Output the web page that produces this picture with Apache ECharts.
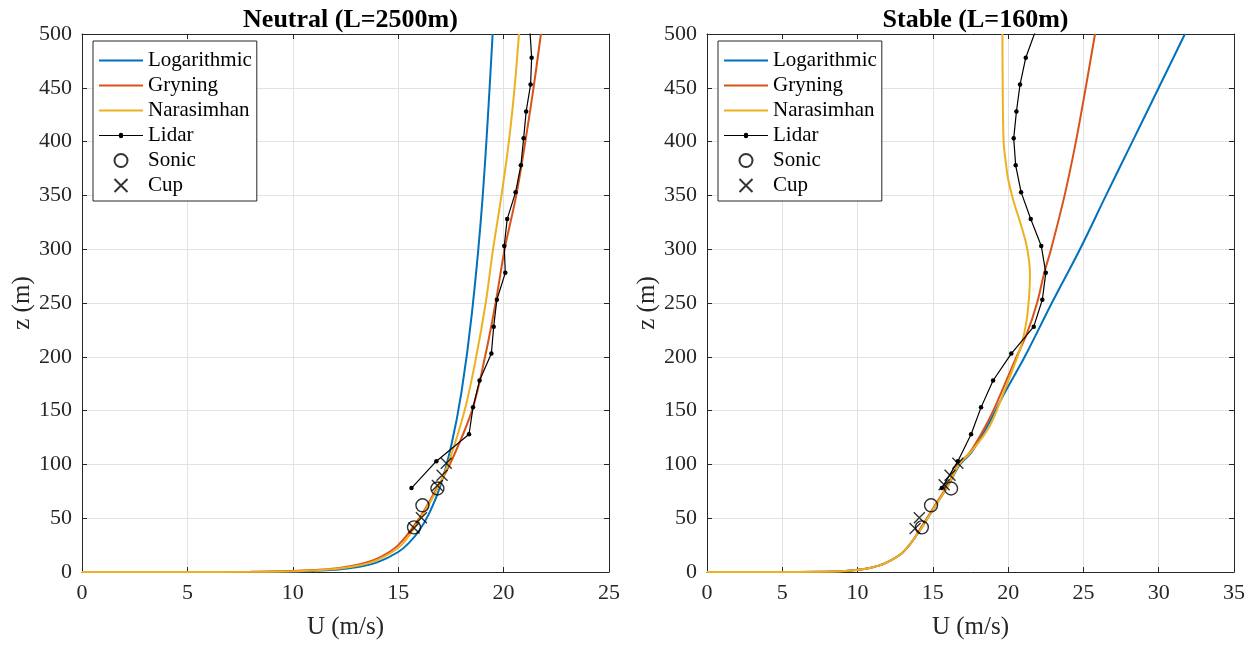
<!DOCTYPE html>
<html><head><meta charset="utf-8">
<script src="https://cdn.jsdelivr.net/npm/echarts@6/dist/echarts.min.js"></script>
<style>html,body{margin:0;padding:0;background:#fff;overflow:hidden}#c{width:1248px;height:645px}</style>
</head><body><div id="c"></div><script>
// ---------- Neutral (L=2500m) ----------
const neutralLogU = [0, 5, 8, 10, 11, 12, 13, 14, 15, 15.5, 16, 16.5, 17, 17.5, 18, 18.5, 19, 19.48];
const neutralLogZ = [0, 0.012, 0.11, 0.48, 1.0, 2.07, 4.3, 8.95, 18.6, 26.8, 38.6, 55.7, 80, 116, 167, 241, 347, 500];
const neutralGryU = [0, 5, 8, 10, 11, 12, 13, 14, 15, 16, 16.75, 17.45, 18.5, 19.12, 19.62, 20.05, 20.6, 21.03, 21.42, 21.77];
const neutralGryZ = [0, 0.02, 0.2, 1.0, 1.9, 3.3, 6.5, 12.5, 25, 50, 75, 100, 150, 200, 250, 300, 350, 400, 450, 500];
const neutralNarU = [0, 5, 8, 10, 11, 12, 13, 14, 15.15, 16.05, 16.8, 17.36, 18.15, 18.7, 19.15, 19.5, 19.9, 20.25, 20.52, 20.73];
const neutralNarZ = [0, 0.015, 0.15, 0.7, 1.5, 2.7, 5.5, 11, 25, 50, 75, 100, 150, 200, 250, 300, 350, 400, 450, 500];
const neutralLidarU = [15.63, 16.81, 18.36, 18.55, 18.86, 19.42, 19.53, 19.68, 20.08, 20.03, 20.17, 20.57, 20.82, 20.95, 21.07, 21.28, 21.33, 21.25];
const neutralLidarZ = [78, 103, 128, 153, 178, 203, 228, 253, 278, 303, 328, 353, 378, 403, 428, 453, 478, 503];
const neutralSonicU = [15.75, 16.15, 16.86];
const neutralSonicZ = [41.5, 62, 77.6];
const neutralCupU = [15.75, 16.1, 16.86, 17.08, 17.28];
const neutralCupZ = [41, 50.5, 80.5, 90, 101];

// ---------- Stable (L=160m) ----------
const stableLogU = [0, 5, 8.5, 9.9, 10.9, 11.8, 12.9, 13.6, 14.25, 15.1, 16.0, 16.8, 17.55, 18.6, 19.75, 21.1, 22.9, 24.77, 26.5, 28.25, 30.0, 31.74];
const stableLogZ = [0, 0.02, 0.5, 1.8, 4, 8, 17, 28, 41, 60, 80, 100, 111, 135, 166, 200, 250, 300, 350, 400, 450, 500];
const stableGryU = [0, 5, 8.5, 9.9, 10.9, 11.8, 12.9, 13.6, 14.2, 15.05, 15.95, 16.7, 17.45, 18.47, 19.24, 20.46, 21.23, 21.9, 22.4, 22.85, 23.75, 24.5, 25.15, 25.77];
const stableGryZ = [0, 0.02, 0.5, 1.8, 4, 8, 17, 28, 41, 60, 80, 100, 111, 135, 157, 197, 221, 249, 278, 300, 350, 400, 450, 500];
const stableNarU = [0, 5, 8.5, 9.9, 10.9, 11.8, 12.9, 13.6, 14.25, 15.1, 16.0, 16.75, 17.5, 18.75, 19.68, 20.35, 20.9, 21.23, 21.4, 21.45, 21.38, 21.2, 20.8, 20.35, 20.0, 19.85, 19.7, 19.64, 19.62];
const stableNarZ = [0, 0.02, 0.5, 1.8, 4, 8, 17, 28, 41, 60, 80, 100, 111, 135, 166, 190, 212, 234, 258, 277, 290, 305, 325, 345, 365, 380, 400, 450, 500];
const stableLidarU = [15.6, 16.66, 17.54, 18.2, 19.0, 20.21, 21.7, 22.27, 22.5, 22.2, 21.5, 20.86, 20.5, 20.37, 20.55, 20.79, 21.17, 21.82];
const stableLidarZ = [78, 103, 128, 153, 178, 203, 228, 253, 278, 303, 328, 353, 378, 403, 428, 453, 478, 503];
const stableSonicU = [14.27, 14.88, 16.21];
const stableSonicZ = [41.5, 62, 77.6];
const stableCupU = [13.82, 14.1, 15.75, 16.14, 16.66];
const stableCupZ = [40.5, 50.5, 81, 90, 101];

const titles = ['Neutral (L=2500m)', 'Stable (L=160m)'];
const xMaxes = [25, 35];
const seriesNames = ['Logarithmic', 'Gryning', 'Narasimhan', 'Lidar', 'Sonic', 'Cup'];
const zTickStep = 50, uTickStep = 5, zMax = 500;

const FONT = '"Liberation Serif", "Times New Roman", serif';
const AX = '#262626';
const C_BLUE = '#0072BD', C_ORANGE = '#D95319', C_YELLOW = '#EDB120';
const crossPath = 'path://M0,0L10,10M10,0L0,10';
const lineIcon = 'path://M0,0L44,0L44,2L0,2Z';
const lidarIcon = 'path://M0,1.4L19.8,1.4A2.2,2.2,0,0,1,24.2,1.4L44,1.4L44,2.6L24.2,2.6A2.2,2.2,0,0,1,19.8,2.6L0,2.6Z';

function pairs(u, z) { return u.map((v, i) => [v, z[i]]); }

const panels = [
  {log: pairs(neutralLogU, neutralLogZ), gry: pairs(neutralGryU, neutralGryZ), nar: pairs(neutralNarU, neutralNarZ),
   lidar: pairs(neutralLidarU, neutralLidarZ), sonic: pairs(neutralSonicU, neutralSonicZ), cup: pairs(neutralCupU, neutralCupZ)},
  {log: pairs(stableLogU, stableLogZ), gry: pairs(stableGryU, stableGryZ), nar: pairs(stableNarU, stableNarZ),
   lidar: pairs(stableLidarU, stableLidarZ), sonic: pairs(stableSonicU, stableSonicZ), cup: pairs(stableCupU, stableCupZ)}
];

const gridLefts = [82, 707];
const gridW = 527, gridTop = 34, gridH = 543;

const legendData = seriesNames.map(n => {
  if (n === 'Lidar') return {name: n, icon: lidarIcon};
  if (n === 'Sonic' || n === 'Cup') return {name: n};
  return {name: n, icon: lineIcon};
});

const grid = [], xAxis = [], yAxis = [], series = [], legend = [], title = [];
panels.forEach((p, i) => {
  grid.push({left: gridLefts[i], top: gridTop, width: gridW, height: gridH, containLabel: false});
  const lineCommon = {show: true, onZero: false, lineStyle: {color: AX, width: 1}};
  const tickCommon = {show: true, inside: true, length: 5, lineStyle: {color: AX, width: 1}};
  xAxis.push({
    gridIndex: i, type: 'value', min: 0, max: xMaxes[i], interval: uTickStep, position: 'bottom',
    axisLine: lineCommon, axisTick: tickCommon,
    axisLabel: {margin: 10, color: AX, fontFamily: FONT, fontSize: 22},
    splitLine: {show: true, lineStyle: {color: '#e2e2e2', width: 1}},
    name: 'U (m/s)', nameLocation: 'middle', nameGap: 43,
    nameTextStyle: {color: AX, fontFamily: FONT, fontSize: 25}
  });
  xAxis.push({
    gridIndex: i, type: 'value', min: 0, max: xMaxes[i], interval: uTickStep, position: 'top',
    axisLine: lineCommon, axisTick: tickCommon, axisLabel: {show: false}, splitLine: {show: false}
  });
  yAxis.push({
    gridIndex: i, type: 'value', min: 0, max: zMax, interval: zTickStep, position: 'left',
    axisLine: lineCommon, axisTick: tickCommon,
    axisLabel: {margin: 10, color: AX, fontFamily: FONT, fontSize: 22},
    splitLine: {show: true, lineStyle: {color: '#e2e2e2', width: 1}},
    name: 'z (m)', nameLocation: 'middle', nameGap: 41,
    nameTextStyle: {color: AX, fontFamily: FONT, fontSize: 25}
  });
  yAxis.push({
    gridIndex: i, type: 'value', min: 0, max: zMax, interval: zTickStep, position: 'right',
    axisLine: lineCommon, axisTick: tickCommon, axisLabel: {show: false}, splitLine: {show: false}
  });
  const xi = 2 * i, yi = 2 * i;
  const curve = (name, data, color) => ({
    name, type: 'line', xAxisIndex: xi, yAxisIndex: yi, data, showSymbol: false, symbol: 'none',
    smooth: 0.35, lineStyle: {color, width: 2}, itemStyle: {color}, clip: true, z: 2
  });
  series.push(curve('Logarithmic', p.log, C_BLUE));
  series.push(curve('Gryning', p.gry, C_ORANGE));
  series.push(curve('Narasimhan', p.nar, C_YELLOW));
  series.push({
    name: 'Lidar', type: 'line', xAxisIndex: xi, yAxisIndex: yi, data: p.lidar,
    symbol: 'circle', symbolSize: 4.5, showSymbol: true, lineStyle: {color: '#000', width: 1.2},
    itemStyle: {color: '#000'}, clip: true, z: 3
  });
  series.push({
    name: 'Sonic', type: 'scatter', xAxisIndex: xi, yAxisIndex: yi, data: p.sonic,
    symbol: 'circle', symbolSize: 13,
    itemStyle: {color: 'rgba(0,0,0,0)', borderColor: '#000', borderWidth: 1.4}, z: 4
  });
  series.push({
    name: 'Cup', type: 'scatter', xAxisIndex: xi, yAxisIndex: yi, data: p.cup,
    symbol: crossPath, symbolSize: 11,
    itemStyle: {color: 'rgba(0,0,0,0)', borderColor: '#000', borderWidth: 1.4}, z: 4
  });
  legend.push({
    data: legendData, orient: 'vertical', left: gridLefts[i] + 11, top: 41,
    itemWidth: 44, itemHeight: 13, itemGap: 4,
    padding: [9, 5, 5, 6], backgroundColor: '#fff', borderColor: AX, borderWidth: 1, borderRadius: 0,
    textStyle: {fontFamily: FONT, fontSize: 21, color: '#000', lineHeight: 21},
    selectedMode: false
  });
  title.push({
    text: titles[i], left: gridLefts[i] + gridW / 2, textAlign: 'center', top: 2,
    textStyle: {fontFamily: FONT, fontSize: 26, fontWeight: 'bold', color: '#000'}
  });
});

const chart = echarts.init(document.getElementById('c'), null, {renderer: 'canvas'});
chart.setOption({animation: false, backgroundColor: '#fff', title, grid, xAxis, yAxis, legend, series});
</script></body></html>
